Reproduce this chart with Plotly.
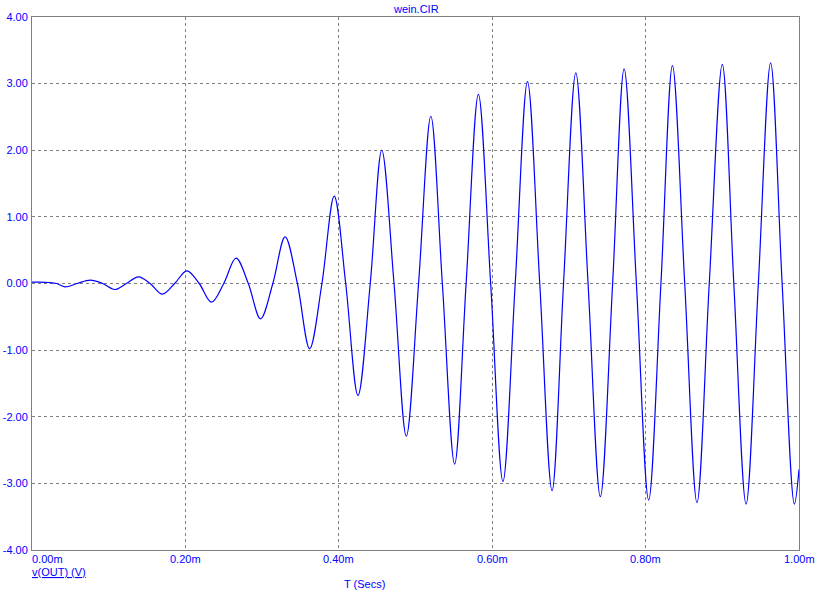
import plotly.graph_objects as go

# Time in ms, voltage in V (extrema and zero crossings)
t_ms = [0.000, 0.010, 0.021, 0.032, 0.043, 0.059, 0.076, 0.092, 0.108, 0.123,
        0.139, 0.154, 0.170, 0.186, 0.202, 0.218, 0.234, 0.250, 0.266, 0.282,
        0.298, 0.314, 0.330, 0.346, 0.362, 0.378, 0.394, 0.409, 0.425, 0.441,
        0.456, 0.472, 0.488, 0.504, 0.520, 0.535, 0.551, 0.566, 0.582, 0.598,
        0.614, 0.630, 0.646, 0.662, 0.678, 0.693, 0.709, 0.725, 0.741, 0.757,
        0.772, 0.788, 0.804, 0.820, 0.835, 0.851, 0.867, 0.883, 0.900, 0.915,
        0.931, 0.947, 0.963, 0.978, 0.994, 1.000]
v_out = [0.02, 0.02, 0.015, 0.0, -0.05, 0.0, 0.05, 0.0, -0.09, 0.0,
         0.10, 0.0, -0.16, 0.0, 0.19, 0.0, -0.28, 0.0, 0.38, 0.0,
         -0.53, 0.0, 0.70, 0.0, -0.98, 0.0, 1.31, 0.0, -1.68, 0.0,
         2.00, 0.0, -2.29, 0.0, 2.51, 0.0, -2.71, 0.0, 2.84, 0.0,
         -2.97, 0.0, 3.03, 0.0, -3.11, 0.0, 3.16, 0.0, -3.20, 0.0,
         3.22, 0.0, -3.25, 0.0, 3.27, 0.0, -3.29, 0.0, 3.29, 0.0,
         -3.31, 0.0, 3.31, 0.0, -3.31, -2.79]

x_ticks = [0.0, 0.2, 0.4, 0.6, 0.8, 1.0]
x_tick_labels = ["0.00m", "0.20m", "0.40m", "0.60m", "0.80m", "1.00m"]
y_ticks = [-4, -3, -2, -1, 0, 1, 2, 3, 4]
y_tick_labels = ["-4.00", "-3.00", "-2.00", "-1.00", "0.00", "1.00", "2.00", "3.00", "4.00"]

BLUE = "#0000FF"
GREY = "#808080"
FONT = "Liberation Sans, Arial, sans-serif"

fig = go.Figure()
fig.add_trace(go.Scatter(
    x=t_ms, y=v_out, mode="lines",
    line=dict(color=BLUE, width=1.2, shape="spline", smoothing=1.0),
    hoverinfo="skip", showlegend=False,
))

fig.update_layout(
    width=825, height=592,
    margin=dict(l=32, r=26, t=17, b=42, autoexpand=False),
    paper_bgcolor="white", plot_bgcolor="white",
    font=dict(family=FONT, size=11, color=BLUE),
    showlegend=False,
)
fig.update_xaxes(
    range=[0, 1.0], tickvals=x_ticks, ticktext=[""] * len(x_ticks),
    showgrid=True, gridcolor=GREY, griddash="3px,3px", gridwidth=1,
    showline=True, linecolor=GREY, linewidth=1, mirror=True,
    zeroline=False, ticks="", fixedrange=True, automargin=False,
)
fig.update_yaxes(
    range=[-4, 4], tickvals=y_ticks, ticktext=y_tick_labels,
    showgrid=True, gridcolor=GREY, griddash="3px,3px", gridwidth=1,
    showline=True, linecolor=GREY, linewidth=1, mirror=True,
    zeroline=False, ticks="", ticklabelstandoff=1, automargin=False,
    tickfont=dict(family=FONT, size=11, color=BLUE), fixedrange=True,
)

# x tick labels (first one left-aligned at the axis, as in the original)
for i, (xv, lab) in enumerate(zip(x_ticks, x_tick_labels)):
    fig.add_annotation(
        x=xv, y=0, xref="x", yref="paper", text=lab, showarrow=False,
        xanchor="left" if i == 0 else "center", yanchor="top", yshift=-1,
        xshift=-2 if i == 0 else 0,
        font=dict(family=FONT, size=11, color=BLUE),
    )

fig.add_annotation(x=0.5, y=1, xref="paper", yref="paper", text="wein.CIR",
                   showarrow=False, xanchor="center", yanchor="bottom", yshift=0,
                   font=dict(family=FONT, size=11, color=BLUE))
fig.add_annotation(x=0, y=0, xref="paper", yref="paper", text="<u>v(OUT) (V)</u>",
                   showarrow=False, xanchor="left", yanchor="top", yshift=-14,
                   xshift=-2, font=dict(family=FONT, size=11, color=BLUE))
fig.add_annotation(x=0.434, y=0, xref="paper", yref="paper", text="T (Secs)",
                   showarrow=False, xanchor="center", yanchor="top", yshift=-26,
                   font=dict(family=FONT, size=11, color=BLUE))

fig.write_html("out.html")
